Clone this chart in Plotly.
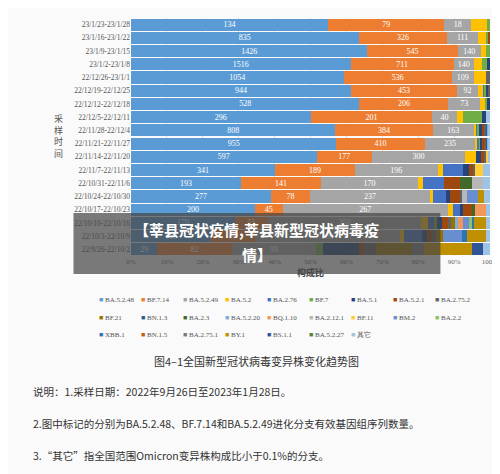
import plotly.graph_objects as go

rows = ["23/1/23-23/1/28","23/1/16-23/1/22","23/1/9-23/1/15","23/1/2-23/1/8","22/12/26-23/1/1",
        "22/12/19-22/12/25","22/12/12-22/12/18","22/12/5-22/12/11","22/11/28-22/12/4","22/11/21-22/11/27",
        "22/11/14-22/11/20","22/11/7-22/11/13","22/10/31-22/11/6","22/10/24-22/10/30","22/10/17-22/10/23",
        "22/10/10-22/10/16","22/10/3-22/10/9","22/9/26-22/10/2"]

variants = ["BA.5.2.48","BF.7.14","BA.5.2.49","BA.5.2","BA.2.76","BF.7","BA.5.1","BA.5.2.1","BA.2.75.2",
            "BF.21","BN.1.3","BA.2.3","BA.5.2.20","BQ.1.10","BA.2.12.1","BF.11","BM.2","BA.2.2",
            "XBB.1","BN.1.5","BA.2.75.1","BY.1","BS.1.1","BA.5.2.27","其它"]

colors = ["#5B9BD5","#ED7D31","#A5A5A5","#FFC000","#4472C4","#70AD47","#264478","#9E480E","#636363",
          "#997300","#255E91","#43682B","#7CAFDD","#F1975A","#B7B7B7","#FFCD33","#698ED0","#8CC168",
          "#2E75B6","#C55A11","#7B7B7B","#BF9000","#2F5597","#548235","#9DC3E6"]

v_BA5248 = [134,835,1426,1516,1054,944,528,296,808,955,597,341,193,277,200,170,110,29]
v_BF714  = [79,326,545,711,536,453,206,201,384,410,177,189,141,78,45,55,60,82]
v_BA5249 = [18,111,140,140,109,92,73,40,163,235,300,196,170,237,267,250,200,93]
v_BA52   = [11,30,30,55,63,23,12,10,8,10,35,12,10,7,8,12,5,0]
v_BA276  = [0,0,0,0,0,5,0,0,8,8,0,49,36,25,11,10,25,0]
v_BF7    = [2,10,25,37,0,8,5,31,5,6,0,0,0,0,0,4,0,8]
v_BA51   = [0,0,0,20,0,8,6,8,12,10,15,13,0,7,6,8,6,39]
v_BA521  = [0,5,0,0,0,0,0,0,6,10,10,10,28,22,14,10,8,6]
v_BA2752 = [0,0,0,0,18,6,0,0,10,10,8,5,0,3,0,5,5,13]
v_BF21   = [0,0,0,0,0,0,0,0,0,0,0,0,0,0,0,8,10,40]
v_BN13   = [0,0,0,0,0,0,0,0,5,4,0,0,0,0,0,0,0,0]
v_BA23   = [0,0,0,0,0,0,0,0,0,0,0,0,22,0,4,0,0,0]
v_BA5220 = [0,0,0,0,0,0,0,0,3,3,0,0,0,0,0,3,0,0]
v_BQ110  = [0,0,0,0,0,0,0,0,0,0,0,0,0,0,19,8,0,0]
v_BA2121 = [0,0,0,0,0,0,0,0,0,0,0,0,18,10,0,0,0,0]
v_BF11   = [0,0,0,0,0,0,0,0,0,0,6,18,0,0,0,0,0,0]
v_BM2    = [0,0,0,0,0,0,0,0,0,0,0,0,0,21,0,10,25,0]
v_BA22   = [0,0,0,0,0,0,0,0,0,0,0,0,0,0,0,5,0,0]
v_XBB1   = [0,0,0,0,0,0,0,0,0,0,0,0,0,0,0,4,8,0]
v_BN15   = [0,0,0,0,0,0,0,0,3,3,0,0,0,0,0,0,0,0]
v_BA2751 = [0,0,0,0,0,0,0,0,0,0,0,0,0,0,0,0,0,13]
v_BY1    = [0,0,0,0,0,0,0,0,0,0,0,0,0,13,0,20,25,53]
v_BS11   = [0,0,0,0,0,0,0,0,0,0,0,0,0,0,0,0,0,12]
v_BA5227 = [0,0,0,0,0,0,0,0,0,0,0,0,0,0,0,0,0,0]
v_other  = [0,0,0,0,0,0,0,6,4,5,6,17,13,11,6,6,6,8]

series = [v_BA5248,v_BF714,v_BA5249,v_BA52,v_BA276,v_BF7,v_BA51,v_BA521,v_BA2752,v_BF21,v_BN13,
          v_BA23,v_BA5220,v_BQ110,v_BA2121,v_BF11,v_BM2,v_BA22,v_XBB1,v_BN15,v_BA2751,v_BY1,v_BS11,
          v_BA5227,v_other]

fig = go.Figure()
for i, (name, vals, c) in enumerate(zip(variants, series, colors)):
    fig.add_trace(go.Bar(
        y=rows, x=vals, name=name, orientation="h", marker=dict(color=c, line=dict(width=0)),
        text=[str(v) for v in vals] if i < 3 else None,
        textposition="inside" if i < 3 else "none", insidetextanchor="middle", textangle=0,
        textfont=dict(color="white", size=8, family="Liberation Serif"),
        showlegend=False,
    ))

PL, PW, PT, PH = 123, 362, 10, 238

def px(x): return (x - PL) / PW
def py(y): return (PT + PH - y) / PH

fig.update_layout(
    width=500, height=474, barmode="stack", barnorm="percent", bargap=0.08,
    margin=dict(l=PL, r=500-PL-PW, t=PT, b=474-PT-PH),
    paper_bgcolor="#fafafa", plot_bgcolor="#fafafa",
    font=dict(family="Liberation Serif", size=8, color="#444"),
    uniformtext=dict(minsize=7, mode="show"),
    xaxis=dict(range=[0,100], dtick=10, ticksuffix="%", showgrid=True, gridcolor="#e0e0e0",
               tickfont=dict(size=7, color="#666"),
               title=dict(text="<b>构成比</b>", font=dict(size=9, family="Noto Sans CJK SC", color="#444"), standoff=4)),
    yaxis=dict(categoryorder="array", categoryarray=rows, autorange="reversed",
               tickfont=dict(size=7.5, color="#555"), ticklen=0),
)

# manual legend built from variant list: 9 per row
for i, (name, c) in enumerate(zip(variants, colors)):
    r, k = divmod(i, 9)
    fig.add_annotation(xref="paper", yref="paper", x=px(89 + k*42.3), y=py(292 + r*17.5),
                       xanchor="left", yanchor="middle", showarrow=False,
                       text=f'<span style="color:{c}">■</span> {name}',
                       font=dict(size=7, family="Liberation Serif", color="#555"))

fig.add_annotation(x=px(43), y=py(128), xref="paper", yref="paper", text="采<br>样<br>时<br>间",
                   showarrow=False, font=dict(size=9, family="Noto Sans CJK SC", color="#555"))

def ann(text, ypx, xpx, size, anchor="left", color="#333", bold=False):
    fig.add_annotation(xref="paper", yref="paper", x=px(xpx), y=py(ypx),
                       xanchor=anchor, yanchor="middle", showarrow=False,
                       text=f"<b>{text}</b>" if bold else text,
                       font=dict(size=size, family="Noto Sans CJK SC", color=color))

ann("图4–1全国新型冠状病毒变异株变化趋势图", 353, 250, 11, anchor="center")
ann("说明：1.采样日期：2022年9月26日至2023年1月28日。", 383, 22, 10.5)
ann("2.图中标记的分别为BA.5.2.48、BF.7.14和BA.5.2.49进化分支有效基因组序列数量。", 415, 22, 10.5)
ann("3.“其它”指全国范围Omicron变异株构成比小于0.1%的分支。", 447, 22, 10.5)

fig.add_shape(type="rect", xref="paper", yref="paper",
              x0=px(65), x1=px(435), y0=py(266), y1=py(205),
              fillcolor="rgba(70,70,70,0.72)", line=dict(width=0), layer="above")
ann("【莘县冠状疫情,莘县新型冠状病毒疫", 221, 250, 15, anchor="center", color="white", bold=True)
ann("情】", 246, 250, 15, anchor="center", color="white", bold=True)

fig.write_html("out.html")
